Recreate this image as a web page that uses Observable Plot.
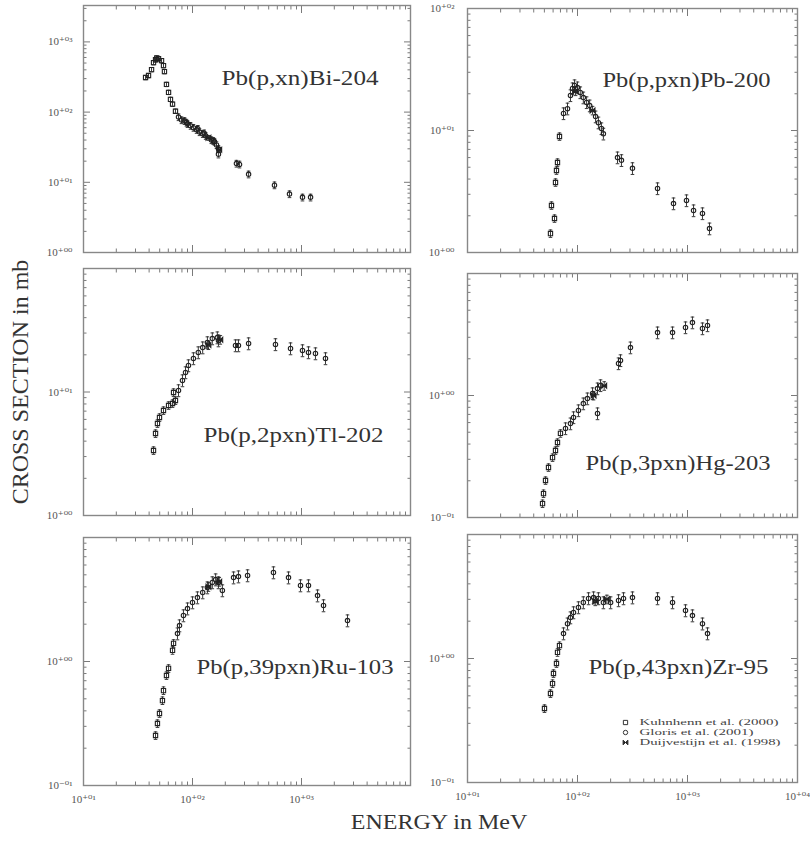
<!DOCTYPE html>
<html><head><meta charset="utf-8">
<script src="https://cdn.jsdelivr.net/npm/d3@7"></script>
<script src="https://cdn.jsdelivr.net/npm/@observablehq/plot@0.6"></script>
<style>
body{margin:0;background:#fff;}
#root{position:relative;width:810px;height:846px;overflow:hidden;font-family:"Liberation Serif","DejaVu Serif",serif;}
.panel{position:absolute;}
.xtitle{position:absolute;left:439px;top:822px;transform:translate(-50%,-50%) scaleX(1.2);font-size:20px;color:#333;white-space:nowrap;}
.ytitle{position:absolute;left:20px;top:382px;transform:translate(-50%,-50%) rotate(-90deg);font-size:24px;color:#333;white-space:nowrap;}
</style></head><body><div id="root"></div>
<script>
// ---------------- data (energy MeV, cross section mb) ----------------
const energyDomain = [10, 10000];
const xLabelsLeft = [10, 100, 1000];
const xLabelsRight = [10, 100, 1000, 10000];
const legendNames = ["Kuhnhenn et al. (2000)", "Gloris et al. (2001)", "Duijvestijn et al. (1998)"];

// Pb(p,xn)Bi-204
const bi204Y = [1, 3300];
const bi204YLabels = [1, 10, 100, 1000];
const bi204K = [[37.1,311],[39.5,332],[42.1,403],[43.9,506],[45.8,557],[47,590],[48.8,576],[52.0,540],[54.2,459],[55.3,378],[57.7,248],[60.3,191],[62.8,152],[65.6,130],[69.8,103]];
const bi204G = [[74.4,85],[79.3,77],[84.5,75],[88,71],[90.0,68],[95.9,64],[102,60],[109,56],[112,58],[116,52],[124,49],[128,50],[132,46],[149,40],[155,39],[159,38],[166,34],[173,30],[173,25],[253,18.5],[270,18],[327,13],[565,9.1],[776,6.8],[1021,6.1],[1211,6.1]];
const bi204D = [[140,43],[176,29]];

// Pb(p,pxn)Pb-200
const pb200Y = [1, 100];
const pb200YLabels = [1, 10, 100];
const pb200K = [[56.8,1.43],[58.0,2.43],[61.8,1.90],[63.1,3.75],[64.4,4.70],[65.8,5.47],[68.6,8.93]];
const pb200G = [[74.6,13.8],[81.1,15.1],[86.3,19.4],[90.1,22.1],[94.0,23.4],[100,22.5],[106,20.5],[113,18.6],[121,17.0],[129,16.0],[146,13.0],[155,11.6],[165,10.4],[172,9.4],[231,6.0],[251,5.7],[316,4.9],[534,3.35],[746,2.52],[979,2.67],[1135,2.21],[1368,2.09],[1585,1.57]];
const pb200D = [[96,21.0],[137,14.6]];

// Pb(p,2pxn)Tl-202
const tl202Y = [1, 100];
const tl202YLabels = [1, 10];
const tl202K = [[43.9,3.36],[45.8,4.61],[47.7,5.56],[49.8,6.22],[54.2,7.08],[60.3,7.78],[65.6,8.07],[69.8,8.53],[67.0,9.91]];
const tl202G = [[74.4,10.3],[80.9,12.4],[86.3,14.4],[91.8,16.4],[102,18.7],[113,20.9],[124,22.9],[137,25.2],[152,27.1],[169,27.6],[173,26.1],[248,23.8],[264,23.8],[327,24.7],[577,24.3],[793,22.5],[1021,21.7],[1159,20.9],[1343,20.5],[1660,18.7]];
const tl202D = [[140,24.0],[180,26.5]];

// Pb(p,3pxn)Hg-203
const hg203Y = [0.1, 10];
const hg203YLabels = [0.1, 1];
const hg203K = [[48.1,0.130],[49.1,0.157],[51.2,0.201],[54.5,0.257],[59.3,0.310],[63.1,0.354],[65.8,0.412],[70.0,0.489]];
const hg203G = [[77.8,0.537],[86.3,0.589],[92.0,0.661],[102,0.754],[113,0.859],[123,0.944],[137,1.04],[152,1.14],[162,1.21],[152,0.712],[236,1.83],[246,1.94],[303,2.47],[534,3.28],[731,3.28],[959,3.61],[1109,3.96],[1368,3.54],[1520,3.75]];
const hg203D = [[140,1.00],[175,1.20]];

// Pb(p,39pxn)Ru-103
const ru103Y = [0.1, 10];
const ru103YLabels = [0.1, 1];
const ru103K = [[45.8,0.253],[47.7,0.316],[49.8,0.381],[53.0,0.484],[54.2,0.583],[57.7,0.771],[60.3,0.879],[65.6,1.23],[67.0,1.40]];
const ru103G = [[72.8,1.68],[76.0,1.95],[82.6,2.35],[90.0,2.67],[100,2.99],[111,3.28],[124,3.60],[137,3.95],[152,4.34],[163,4.58],[173,4.34],[188,3.74],[238,4.75],[264,4.84],[320,4.94],[553,5.22],[760,4.75],[979,4.10],[1159,4.10],[1403,3.40],[1592,2.83],[2642,2.14]];
const ru103D = [[140,4.00],[176,4.40]];

// Pb(p,43pxn)Zr-95
const zr95Y = [0.1, 10];
const zr95YLabels = [0.1, 1];
const zr95K = [[50.1,0.395],[56.8,0.522],[59.3,0.628],[60.5,0.757],[64.4,0.912],[65.8,1.12],[68.6,1.27]];
const zr95G = [[74.6,1.59],[81.1,1.91],[86.3,2.14],[92.0,2.35],[102,2.58],[113,2.83],[126,3.05],[140,3.10],[155,3.05],[172,2.83],[200,2.83],[236,2.94],[262,3.05],[316,3.10],[534,3.05],[731,2.83],[959,2.44],[1109,2.22],[1368,1.91],[1520,1.59]];
const zr95D = [[145,2.90],[185,3.00]];

// relative uncertainty of each data set (error bars)
const relErr = {kuhnhenn: 0.07, gloris: 0.11, duijvestijn: 0.08};

// ---------------- panels ----------------
const panels = [
  {name:"Pb(p,xn)Bi-204", K:bi204K, G:bi204G, D:bi204D, yDomain:bi204Y, yLabels:bi204YLabels, xLabels:[]},
  {name:"Pb(p,pxn)Pb-200", K:pb200K, G:pb200G, D:pb200D, yDomain:pb200Y, yLabels:pb200YLabels, xLabels:[]},
  {name:"Pb(p,2pxn)Tl-202", K:tl202K, G:tl202G, D:tl202D, yDomain:tl202Y, yLabels:tl202YLabels, xLabels:[]},
  {name:"Pb(p,3pxn)Hg-203", K:hg203K, G:hg203G, D:hg203D, yDomain:hg203Y, yLabels:hg203YLabels, xLabels:[]},
  {name:"Pb(p,39pxn)Ru-103", K:ru103K, G:ru103G, D:ru103D, yDomain:ru103Y, yLabels:ru103YLabels, xLabels:xLabelsLeft},
  {name:"Pb(p,43pxn)Zr-95", K:zr95K, G:zr95G, D:zr95D, yDomain:zr95Y, yLabels:zr95YLabels, xLabels:xLabelsRight, legend:true}
];

// layout / style per panel
const layout = [
  {left:0,   top:0,   width:415, height:262, mt:5,  mb:10, ml:83, mr:5,  anchor:"top-right",    tdx:-32, tdy:73,  tlen:157, ypad:11},
  {left:415, top:0,   width:395, height:262, mt:8,  mb:10, ml:52, mr:13, anchor:"top-right",    tdx:-27, tdy:72,  tlen:168, ypad:13},
  {left:0,   top:262, width:415, height:263, mt:6,  mb:10, ml:83, mr:5,  anchor:"bottom-right", tdx:-27, tdy:-80, tlen:180, ypad:11},
  {left:415, top:262, width:395, height:265, mt:11, mb:10, ml:52, mr:13, anchor:"bottom-right", tdx:-27, tdy:-54, tlen:185, ypad:13},
  {left:0,   top:527, width:415, height:295, mt:10, mb:37, ml:83, mr:5,  anchor:"top-right",    tdx:-17, tdy:130, tlen:197, ypad:11},
  {left:415, top:527, width:395, height:295, mt:7,  mb:40, ml:52, mr:13, anchor:"top-right",    tdx:-29, tdy:133, tlen:180, ypad:13}
];
const legendLen = [139, 114, 141];

// ---------------- helpers ----------------
const sup = {"0":"⁰","1":"¹","2":"²","3":"³","4":"⁴","5":"⁵","6":"⁶","7":"⁷","8":"⁸","9":"⁹","+":"⁺","-":"⁻"};
function fmtPow(v){
  const e = Math.round(Math.log10(v));
  const s = (e < 0 ? "-" : "+") + String(Math.abs(e)).padStart(2, "0");
  return "10" + [...s].map(c => sup[c]).join("");
}
function decadeTicks([lo, hi], mults){
  const out = [];
  for (let k = Math.floor(Math.log10(lo)); k <= Math.ceil(Math.log10(hi)); k++)
    for (const m of mults){ const v = m * Math.pow(10, k); if (v >= lo*0.999 && v <= hi*1.001) out.push(v); }
  return out;
}
const hline = {draw(ctx, size){ const r = Math.sqrt(size/Math.PI); ctx.moveTo(-r,0); ctx.lineTo(r,0); }};
const bowtie = {draw(ctx, size){ const r = Math.sqrt(size/Math.PI); ctx.moveTo(-r,-r); ctx.lineTo(r,r); ctx.lineTo(r,-r); ctx.lineTo(-r,r); ctx.closePath(); }};
const seriesStyle = {
  kuhnhenn: {symbol:"square", fill:"none", r:2.4},
  gloris: {symbol:"circle", fill:"none", r:2.2},
  duijvestijn: {symbol:bowtie, fill:"#222", r:2.4}
};
const legendSymbols = ["kuhnhenn", "gloris", "duijvestijn"];

const root = document.getElementById("root");
const ink = "#222", tickCol = "#7a7a7a";

function stretchText(svg, content, len){
  d3.select(svg).selectAll("text").filter(function(){ return this.textContent === content; })
    .attr("textLength", len).attr("lengthAdjust", "spacingAndGlyphs");
}

panels.forEach((p, i) => {
  const L = layout[i];
  const xMaj = decadeTicks(energyDomain, [1]);
  const xMin = decadeTicks(energyDomain, [2,3,4,5,6,7,8,9]);
  const yMaj = decadeTicks(p.yDomain, [1]);
  const yMin = decadeTicks(p.yDomain, [2,3,4,5,6,7,8,9]);
  const blank = () => "";
  const marks = [];
  for (const a of ["top","bottom"]) {
    marks.push(Plot.axisX({anchor:a, ticks:xMaj, tickSize:-7, tickFormat:blank, color:tickCol, label:null}));
    marks.push(Plot.axisX({anchor:a, ticks:xMin, tickSize:-3.5, tickFormat:blank, color:tickCol, label:null}));
  }
  for (const a of ["left","right"]) {
    marks.push(Plot.axisY({anchor:a, ticks:yMaj, tickSize:-7, tickFormat:blank, color:tickCol, label:null}));
    marks.push(Plot.axisY({anchor:a, ticks:yMin, tickSize:-3.5, tickFormat:blank, color:tickCol, label:null}));
  }
  marks.push(Plot.axisY({anchor:"left", ticks:p.yLabels, tickSize:0, tickPadding:L.ypad, tickFormat:fmtPow, color:"#555", fontSize:11, label:null}));
  if (p.xLabels.length)
    marks.push(Plot.axisX({anchor:"bottom", ticks:p.xLabels, tickSize:0, tickPadding:10, tickFormat:fmtPow, color:"#555", fontSize:11, label:null}));
  marks.push(Plot.frame({stroke:"#888", strokeWidth:1.4}));

  const sets = [["kuhnhenn", p.K], ["gloris", p.G], ["duijvestijn", p.D]];
  for (const [key, data] of sets) {
    const e = relErr[key];
    marks.push(Plot.ruleX(data, {x:d=>d[0], y1:d=>d[1]*(1-e), y2:d=>d[1]*(1+e), stroke:ink, strokeWidth:0.9}));
    marks.push(Plot.dot(data, {x:d=>d[0], y:d=>d[1]*(1-e), symbol:hline, r:1.8, stroke:ink, strokeWidth:0.9}));
    marks.push(Plot.dot(data, {x:d=>d[0], y:d=>d[1]*(1+e), symbol:hline, r:1.8, stroke:ink, strokeWidth:0.9}));
    const st = seriesStyle[key];
    marks.push(Plot.dot(data, {x:d=>d[0], y:d=>d[1], symbol:st.symbol, r:st.r, fill:st.fill, stroke:ink, strokeWidth:1.1}));
  }

  marks.push(Plot.text([p.name], {frameAnchor:L.anchor, dx:L.tdx, dy:L.tdy, textAnchor:"end", lineAnchor:"middle", fontSize:20, fill:"#333"}));

  if (p.legend) {
    legendNames.forEach((n, j) => {
      const st = seriesStyle[legendSymbols[j]];
      marks.push(Plot.dot([n], {frameAnchor:"bottom-right", dx:-172, dy:-60 + j*10, symbol:st.symbol, r:st.r, fill:st.fill, stroke:"#333", strokeWidth:1}));
      marks.push(Plot.text([n], {frameAnchor:"bottom-right", dx:-158, dy:-60 + j*10, textAnchor:"start", lineAnchor:"middle", fontSize:9, fill:"#444"}));
    });
  }

  const svg = Plot.plot({
    width:L.width, height:L.height,
    marginTop:L.mt, marginBottom:L.mb, marginLeft:L.ml, marginRight:L.mr,
    x:{type:"log", domain:energyDomain, label:null},
    y:{type:"log", domain:p.yDomain, label:null},
    style:{background:"transparent", fontFamily:"'Liberation Serif','DejaVu Serif',serif", maxWidth:"none", overflow:"visible"},
    marks
  });
  stretchText(svg, p.name, L.tlen);
  if (p.legend) legendNames.forEach((n, j) => stretchText(svg, n, legendLen[j]));
  const div = document.createElement("div");
  div.className = "panel";
  div.style.left = L.left + "px"; div.style.top = L.top + "px";
  div.style.width = L.width + "px"; div.style.height = L.height + "px";
  div.appendChild(svg);
  root.appendChild(div);
});

const xt = document.createElement("div"); xt.className = "xtitle"; xt.textContent = "ENERGY in MeV"; root.appendChild(xt);
const yt = document.createElement("div"); yt.className = "ytitle"; yt.textContent = "CROSS SECTION in mb"; root.appendChild(yt);
</script>
</body></html>
